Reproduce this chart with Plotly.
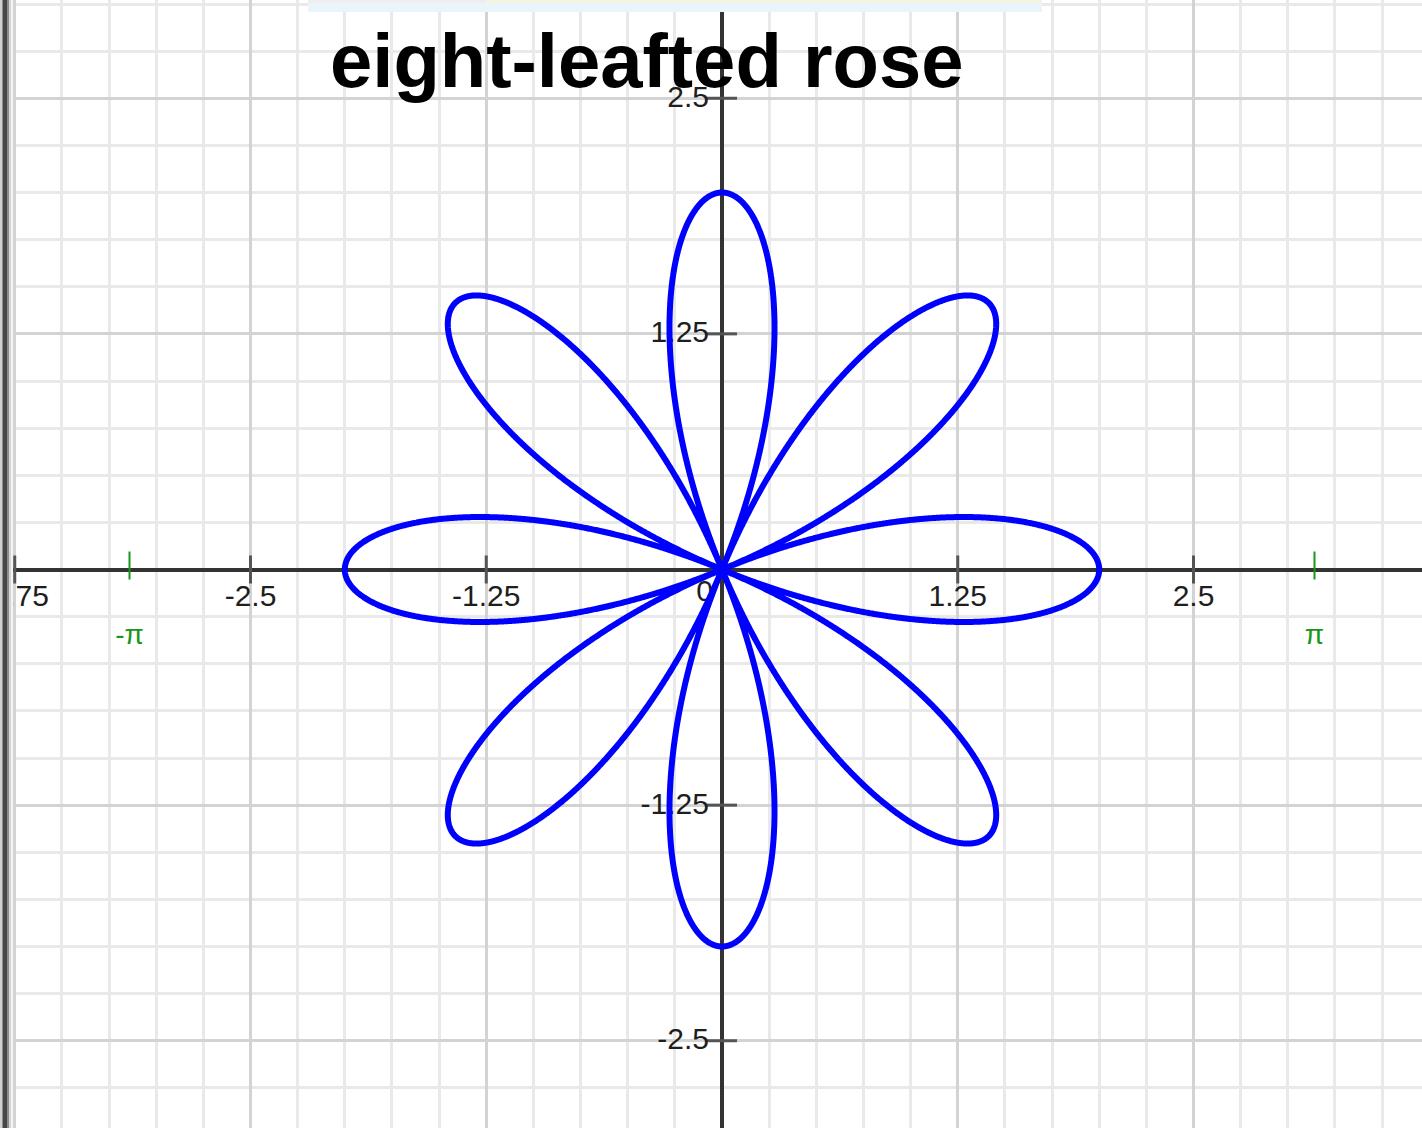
import numpy as np
import plotly.graph_objects as go

# ---- data ----
TITLE = "eight-leafted rose"
ROSE_AMPLITUDE = 2.0      # r = a * cos(k * theta)
ROSE_K = 4
X_TICK_VALUES = [-3.75, -2.5, -1.25, 1.25, 2.5]
X_TICK_LABELS = ["-3.75", "-2.5", "-1.25", "1.25", "2.5"]
Y_TICK_VALUES = [2.5, 1.25, -1.25, -2.5]
Y_TICK_LABELS = ["2.5", "1.25", "-1.25", "-2.5"]
PI_MARKS = [-np.pi, np.pi]
PI_LABELS = ["-π", "π"]

# ---- geometry / style ----
W, H = 1422, 1128
ML = 13
PX_PER_UNIT_X = 188.6
PX_PER_UNIT_Y = 188.5
ORIGIN_PX_X = 722
ORIGIN_PX_Y = 569.5
x_range = [(ML - ORIGIN_PX_X) / PX_PER_UNIT_X, (W - ORIGIN_PX_X) / PX_PER_UNIT_X]
y_range = [-(H - ORIGIN_PX_Y) / PX_PER_UNIT_Y, ORIGIN_PX_Y / PX_PER_UNIT_Y]

def dx(px):
    return px / PX_PER_UNIT_X

def dy(px):
    return px / PX_PER_UNIT_Y

def paper_x(px):
    return (px - ML) / (W - ML)

def paper_y(px):
    return 1 - px / H

FONT = "Liberation Sans, Arial, sans-serif"
LABEL_COLOR = "#1e1e1e"
GREEN = "#1a961a"

theta = np.linspace(0, 2 * np.pi, 4001)
r = ROSE_AMPLITUDE * np.cos(ROSE_K * theta)
cx = r * np.cos(theta)
cy = r * np.sin(theta)

fig = go.Figure()

# x tick labels (clipped by plot area)
fig.add_trace(go.Scatter(
    x=X_TICK_VALUES, y=[-dy(29)] * len(X_TICK_VALUES), mode="text",
    text=X_TICK_LABELS, textposition="middle center",
    textfont=dict(family=FONT, size=30, color=LABEL_COLOR),
    hoverinfo="skip", showlegend=False, cliponaxis=True))
# y tick labels
fig.add_trace(go.Scatter(
    x=[-dx(13)] * len(Y_TICK_VALUES), y=[v - dy(1) for v in Y_TICK_VALUES], mode="text",
    text=Y_TICK_LABELS, textposition="middle left",
    textfont=dict(family=FONT, size=30, color=LABEL_COLOR),
    hoverinfo="skip", showlegend=False))
# origin label
fig.add_trace(go.Scatter(
    x=[-dx(9)], y=[-dy(24)], mode="text", text=["0"], textposition="middle left",
    textfont=dict(family=FONT, size=30, color=LABEL_COLOR),
    hoverinfo="skip", showlegend=False))
# pi labels
fig.add_trace(go.Scatter(
    x=PI_MARKS, y=[-dy(67)] * 2, mode="text", text=PI_LABELS,
    textposition="middle center",
    textfont=dict(family=FONT, size=28, color=GREEN),
    hoverinfo="skip", showlegend=False))

# the rose
fig.add_trace(go.Scatter(
    x=cx, y=cy, mode="lines",
    line=dict(color="#0000ff", width=6, simplify=False, shape="spline", smoothing=0.6),
    hoverinfo="skip", showlegend=False))

shapes = []
# axis ticks
for v in X_TICK_VALUES:
    shapes.append(dict(type="line", xref="x", yref="y", x0=v, x1=v,
                       y0=-dy(14), y1=dy(14), line=dict(color="#555555", width=3),
                       layer="between"))
for v in Y_TICK_VALUES:
    shapes.append(dict(type="line", xref="x", yref="y", y0=v, y1=v,
                       x0=-dx(15), x1=dx(15), line=dict(color="#555555", width=3),
                       layer="between"))
# pi ticks
for v in PI_MARKS:
    shapes.append(dict(type="line", xref="x", yref="y", x0=v, x1=v,
                       y0=-dy(10), y1=dy(18), line=dict(color=GREEN, width=2),
                       layer="above"))
# left frame border (in margin)
for (a, b, col) in [(0, 2, "#cfcfcf"), (2, 3, "#8c8c8c"), (3, 7, "#464646"),
                    (7, 9, "#8c8c8c"), (9, 11, "#d4d4d4"), (11, 13, "#f4f4f4")]:
    shapes.append(dict(type="rect", xref="paper", yref="paper",
                       x0=paper_x(a), x1=paper_x(b), y0=0, y1=1,
                       fillcolor=col, line=dict(width=0), layer="above"))
# cut-off panel at top
shapes.append(dict(type="rect", xref="paper", yref="paper",
                   x0=paper_x(308), x1=paper_x(1042), y0=paper_y(12), y1=1,
                   fillcolor="#e9f4fb", line=dict(width=0), layer="above"))
shapes.append(dict(type="rect", xref="paper", yref="paper",
                   x0=paper_x(308), x1=paper_x(486), y0=paper_y(3), y1=1,
                   fillcolor="#eeeeee", line=dict(width=0), layer="above"))
shapes.append(dict(type="rect", xref="paper", yref="paper",
                   x0=paper_x(486), x1=paper_x(1042), y0=paper_y(3), y1=1,
                   fillcolor="#f6f4dc", line=dict(width=0), layer="above"))

axis_common = dict(
    showticklabels=False, ticks="", showline=False,
    zeroline=True, zerolinecolor="#333333", zerolinewidth=3.5,
    tick0=0, dtick=1.25, showgrid=True, gridcolor="#d3d3d3", gridwidth=3,
    minor=dict(tick0=0, dtick=0.25, showgrid=True, gridcolor="#e9e9e9", gridwidth=3),
    fixedrange=True,
)

fig.update_layout(
    width=W, height=H,
    margin=dict(l=ML, r=0, t=0, b=0),
    paper_bgcolor="white", plot_bgcolor="white",
    xaxis=dict(range=x_range, **axis_common),
    yaxis=dict(range=y_range, **axis_common),
    shapes=shapes,
    annotations=[dict(
        text="<b>" + TITLE + "</b>", xref="paper", yref="paper",
        x=paper_x(646), y=paper_y(60), xanchor="center", yanchor="middle",
        showarrow=False, font=dict(family=FONT, size=76, color="black"))],
)

fig.write_html("out.html", config={"displayModeBar": False},
               post_script="document.body.style.margin='0';")
